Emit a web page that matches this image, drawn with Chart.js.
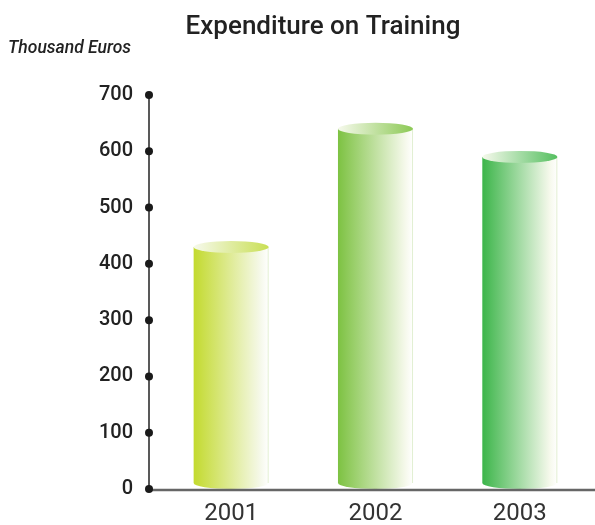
<!DOCTYPE html>
<html>
<head>
<meta charset="utf-8">
<script src="https://cdn.jsdelivr.net/npm/chart.js@4"></script>
<style>
html, body { margin: 0; padding: 0; background: #fff; }
</style>
</head>
<body>
<canvas id="chart" width="595" height="525"></canvas>
<script>
const years = ['2001', '2002', '2003'];
const expenditure = [430, 640, 590];
const yMax = 700;
const yStep = 100;
const barColors = ['#c3da2e', '#7dc242', '#3cb54a'];
const capColors = ['#c9df55', '#8cc955', '#55bf60'];
const chartTitle = 'Expenditure on Training';
const unitLabel = 'Thousand Euros';

// cylinders, drawn from the bar elements the library laid out
const cylinderPlugin = {
    id: 'cylinders',
    afterDatasetsDraw( chart ) {
        const ctx = chart.ctx;
        const meta = chart.getDatasetMeta(0);
        meta.data.forEach( (bar, i) => {
            const rx = bar.width / 2;
            const ry = 6;
            const left = bar.x - rx;
            const right = bar.x + rx;

            let body = ctx.createLinearGradient( left, 0, right, 0 );
            body.addColorStop( 0, barColors[i] );
            body.addColorStop( 0.9, '#f6f9ec' );
            body.addColorStop( 1, '#ffffff' );

            ctx.save();
            ctx.beginPath();
            ctx.moveTo( left, bar.y );
            ctx.lineTo( left, bar.base - ry );
            ctx.ellipse( bar.x, bar.base - ry, rx, ry, 0, Math.PI, 0, true );
            ctx.lineTo( right, bar.y );
            ctx.closePath();
            ctx.fillStyle = body;
            ctx.fill();
            ctx.strokeStyle = 'rgba(200,225,170,0.5)';
            ctx.lineWidth = 1;
            ctx.beginPath();
            ctx.moveTo( right - 0.5, bar.y );
            ctx.lineTo( right - 0.5, bar.base - ry );
            ctx.stroke();

            let cap = ctx.createLinearGradient( left, 0, right, 0 );
            cap.addColorStop( 0, '#f6f9ec' );
            cap.addColorStop( 1, capColors[i] );
            ctx.beginPath();
            ctx.ellipse( bar.x, bar.y, rx, ry, 0, 0, Math.PI * 2 );
            ctx.fillStyle = cap;
            ctx.fill();
            ctx.restore();
        } );
    }
};

// axis lines with dots on the ticks, plus the title texts
const decorPlugin = {
    id: 'decor',
    afterDraw( chart ) {
        const ctx = chart.ctx;
        const area = chart.chartArea;
        const yScale = chart.scales.y;
        const x0 = area.left - 10;

        ctx.save();
        ctx.strokeStyle = '#666';
        ctx.lineWidth = 2.5;
        ctx.beginPath();
        ctx.moveTo( x0, area.bottom + 1 );
        ctx.lineTo( chart.width, area.bottom + 1 );
        ctx.stroke();

        ctx.strokeStyle = '#222';
        ctx.lineWidth = 1.5;
        ctx.beginPath();
        ctx.moveTo( x0, area.top );
        ctx.lineTo( x0, area.bottom + 1 );
        ctx.stroke();

        ctx.fillStyle = '#1a1a1a';
        yScale.ticks.forEach( t => {
            ctx.beginPath();
            ctx.arc( x0, yScale.getPixelForValue( t.value ), 4, 0, Math.PI * 2 );
            ctx.fill();
        } );

        ctx.fillStyle = '#222';
        ctx.textAlign = 'center';
        ctx.textBaseline = 'middle';
        ctx.font = '500 26px Roboto';
        ctx.fillText( chartTitle, 323, 27 );

        ctx.textAlign = 'left';
        ctx.font = 'italic 500 17.5px Roboto';
        ctx.fillText( unitLabel, 8, 49 );
        ctx.restore();
    }
};

document.addEventListener('DOMContentLoaded', function(){

    const ctx = document.getElementById('chart').getContext('2d');
    new Chart( ctx, {
        type: 'bar',
        data: {
            labels: years,
            datasets: [{
                data: expenditure,
                backgroundColor: 'rgba(0,0,0,0)',
                borderWidth: 0,
                categoryPercentage: 1,
                barPercentage: 0.52,
            }]
        },
        options: {
            responsive: false,
            animation: false,
            layout: { padding: { top: 95, right: 3, left: 0, bottom: 0 } },
            plugins: {
                legend: { display: false },
                tooltip: { enabled: false },
            },
            scales: {
                x: {
                    grid: { display: false },
                    border: { display: false },
                    ticks: {
                        color: '#333',
                        padding: 3,
                        font: { family: 'Roboto', size: 24, weight: 400 },
                    },
                    afterFit: s => { s.height = 36; },
                },
                y: {
                    min: 0,
                    max: yMax,
                    grid: { display: false },
                    border: { display: false },
                    ticks: {
                        stepSize: yStep,
                        color: '#222',
                        padding: 18,
                        font: { family: 'Roboto', size: 20, weight: 500 },
                    },
                    afterFit: s => { s.width = 159; },
                },
            },
        },
        plugins: [ cylinderPlugin, decorPlugin ],
    });

});
</script>
</body>
</html>
